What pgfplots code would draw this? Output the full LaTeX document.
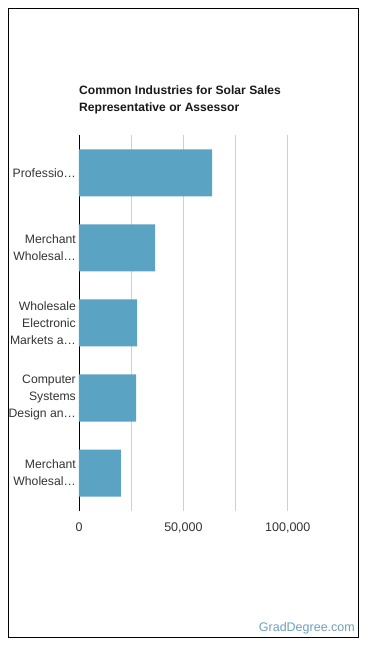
\documentclass[border=0pt]{standalone}
\usepackage{pgfplots}
\pgfplotsset{compat=1.18}
\usetikzlibrary{calc}
\usepackage{fontspec}
\setmainfont{Liberation Sans}
\definecolor{barc}{HTML}{5BA3C2}
\definecolor{gridc}{HTML}{D0D0D0}
\definecolor{txt}{HTML}{333333}
\definecolor{brand}{HTML}{6E9FBF}
\begin{document}
\begin{tikzpicture}
\begin{axis}[
  scale only axis, width=261pt, height=375pt,
  xbar, bar width=47pt,
  xmin=0, xmax=125000, ymin=-0.5, ymax=4.5,
  scaled x ticks=false,
  ytick={0,1,2,3,4},
  yticklabels={{Merchant\\Wholesal…},{Computer\\Systems\\Design an…},{Wholesale\\Electronic\\Markets a…},{Merchant\\Wholesal…},{Professio…}},
  xtick={0,25000,50000,75000,100000},
  xticklabels={0,,{50,000},,{100,000}},
  major tick length=0pt,
  xmajorgrids, grid style={gridc, line width=0.8pt},
  axis y line*=left, axis x line*=bottom,
  x axis line style={draw=none},
  y axis line style={black, line width=0.8pt},
  yticklabel style={align=right, inner sep=0pt, xshift=-3pt, text=txt, font=\fontsize{12.2}{17}\selectfont},
  xticklabel style={text=txt, yshift=-9pt, font=\fontsize{12.5}{15}\selectfont},
]
\addplot[fill=barc, draw=none] coordinates {(63700,4) (36400,3) (27800,2) (27300,1) (20100,0)};
\coordinate (O) at (rel axis cs:0,0);
\end{axis}
\pgfresetboundingbox
\begin{scope}[x=1pt,y=1pt,shift={($(O)+(-79pt,-137.5pt)$)}]
\path[use as bounding box] (0,0) rectangle (370,648);
\draw[black, line width=1pt] (8.5,10.5) rectangle (358.5,639.5);
\node[anchor=base west, inner sep=0pt, text=black!90, font=\bfseries\fontsize{12.1}{15}\selectfont] at (79,553) {Common Industries for Solar Sales};
\node[anchor=base west, inner sep=0pt, text=black!90, font=\bfseries\fontsize{12.1}{15}\selectfont] at (79,536) {Representative or Assessor};
\node[anchor=base east, inner sep=0pt, text=brand, font=\fontsize{12.5}{15}\selectfont] at (355,17) {GradDegree.com};
\end{scope}
\end{tikzpicture}
\end{document}
